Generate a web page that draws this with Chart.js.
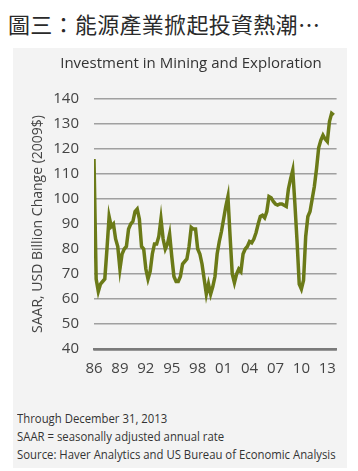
<!DOCTYPE html>
<html>
<head>
<meta charset="utf-8">
<script src="https://cdn.jsdelivr.net/npm/chart.js@4"></script>
<style>
body { margin: 0; background: #fff; width: 358px; height: 471px; position: relative; overflow: hidden; font-family: 'Open Sans', sans-serif; }
#head { position: absolute; left: 8px; top: 12px; font-family: 'Noto Sans CJK TC', sans-serif; font-size: 22px; line-height: 22px; color: #2a2a2a; white-space: nowrap; letter-spacing: 0.3px; }
#panel { position: absolute; left: 13px; top: 48px; width: 334px; height: 420px; background: #f3f3f3; }
#chart { position: absolute; left: 0; top: 0; }
#ctitle { position: absolute; left: 0; top: 5px; width: 356px; text-align: center; font-size: 15px; line-height: 18px; color: #333; white-space: nowrap; }
#notes { position: absolute; left: 4px; top: 362px; font-size: 12px; line-height: 18px; color: #333; white-space: nowrap; transform: scaleX(0.945); transform-origin: left top; }
</style>
</head>
<body>
<div id="head">圖三：能源產業掀起投資熱潮…</div>
<div id="panel">
  <canvas id="chart" width="334" height="351"></canvas>
  <div id="ctitle">Investment in Mining and Exploration</div>
  <div id="notes">
    Through December 31, 2013<br>
    SAAR = seasonally adjusted annual rate<br>
    Source: Haver Analytics and US Bureau of Economic Analysis
  </div>
</div>
<script>
// quarterly, 1986 Q1 .. 2013 Q4
const years = [1986, 1987, 1988, 1989, 1990, 1991, 1992, 1993, 1994, 1995, 1996, 1997, 1998, 1999,
               2000, 2001, 2002, 2003, 2004, 2005, 2006, 2007, 2008, 2009, 2010, 2011, 2012, 2013];
const quarters = ['Q1', 'Q2', 'Q3', 'Q4'];
const tickLabels = ['86', '89', '92', '95', '98', '01', '04', '07', '10', '13'];

// SAAR, USD billion change (2009$)
const investment = [
  116, 68, 63, 66, 67, 68, 80, 93, 89, 90, 84, 81,
  72, 78, 80, 81, 88, 90, 91, 95, 96, 92, 81, 80,
  72, 68, 71, 78, 82, 82, 85, 92, 84, 80, 82, 86,
  77, 69, 67, 67, 69, 74, 75, 76, 81, 88.7, 88, 88,
  80, 78, 74, 68, 62, 66, 62, 65, 69, 78, 83, 87,
  92, 97, 101, 85, 70, 66.5, 70, 72, 71, 78, 80, 81,
  83, 82.5, 84, 86.5, 90, 93, 93.5, 92.5, 95, 101, 100.5, 99,
  98, 97.6, 98, 98, 97.5, 97, 104, 108, 111.5, 98, 83, 66,
  64, 67.5, 85, 93, 95, 100, 105, 112, 120.5, 123.5, 125.5, 124,
  123, 131, 134.3, 133.6
];

const labels = years.flatMap(y => quarters.map(q => y + ' ' + q));
const points = investment.map((v, i) => ({ x: i, y: v }));

const tickFont = { family: "'Open Sans', sans-serif", size: 15 };

new Chart(document.getElementById('chart'), {
    type: 'line',
    data: {
        labels: labels,
        datasets: [{
            data: points,
            borderColor: '#6b7a18',
            borderWidth: 3.5,
            pointRadius: 0,
            tension: 0
        }]
    },
    options: {
        responsive: false,
        animation: false,
        layout: { padding: { left: 0, right: 3, top: 51, bottom: 0 } },
        plugins: {
            legend: { display: false },
            tooltip: { enabled: false }
        },
        scales: {
            x: {
                type: 'linear',
                min: 0,
                max: 112.3,
                afterFit: s => { s.height = 50; },
                grid: { display: false, drawTicks: false },
                border: { display: true, color: '#7a7a7a', width: 2.5 },
                ticks: {
                    stepSize: 12,
                    includeBounds: false,
                    maxRotation: 0,
                    autoSkip: false,
                    padding: 11,
                    color: '#444',
                    font: tickFont,
                    callback: v => tickLabels[v / 12]
                }
            },
            y: {
                min: 40,
                max: 140,
                afterFit: s => { s.width = 81; },
                grid: {
                    drawTicks: false,
                    color: c => c.tick && c.tick.value === 40 ? '#7a7a7a' : '#a0a0a0',
                    lineWidth: c => c.tick && c.tick.value === 40 ? 2.5 : 1.5
                },
                border: { display: false },
                ticks: { stepSize: 10, padding: 15, color: '#444', font: tickFont },
                title: {
                    display: true,
                    text: 'SAAR, USD Billion Change (2009$)',
                    color: '#444',
                    font: { family: "'Open Sans', sans-serif", size: 14 },
                    padding: { top: 17, bottom: 0 }
                }
            }
        }
    }
});
</script>
</body>
</html>
